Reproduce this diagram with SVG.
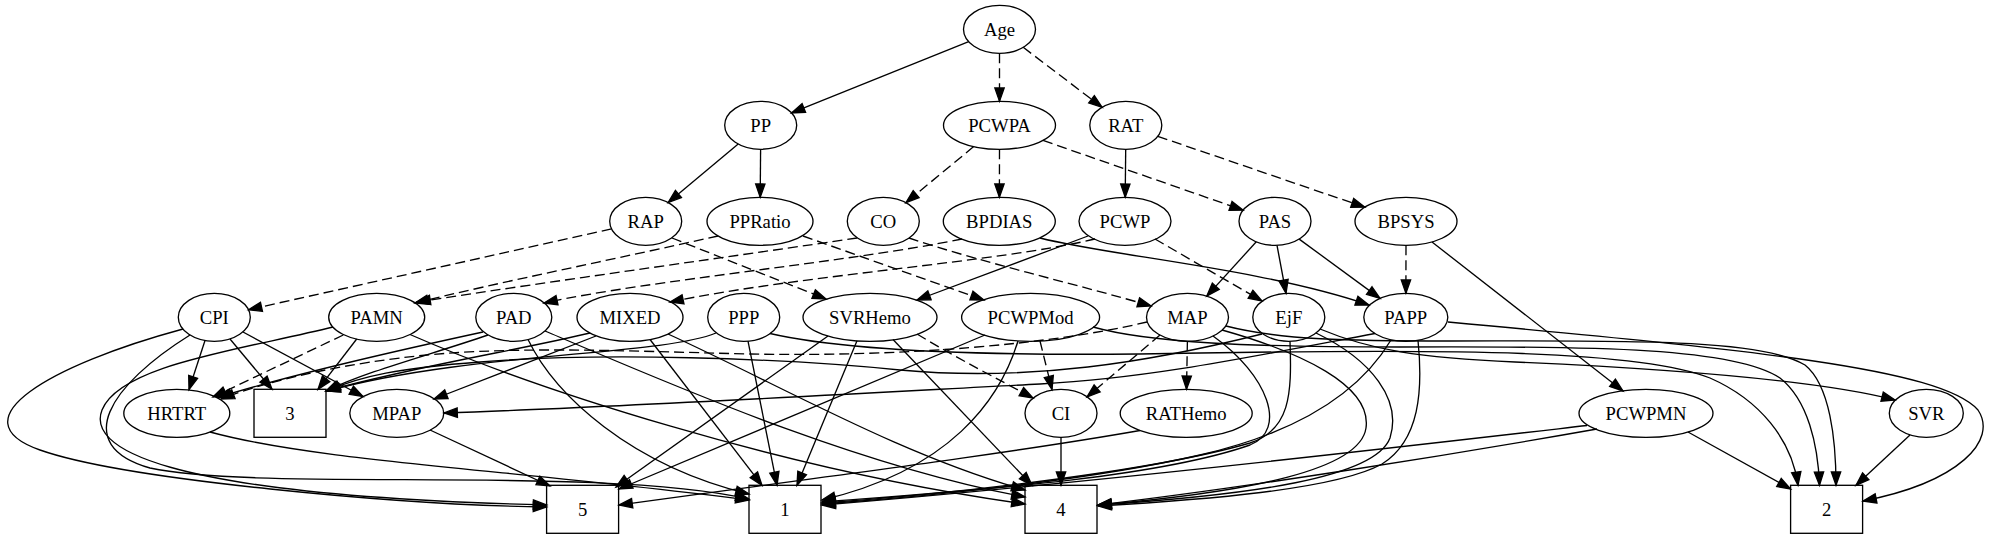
<svg xmlns="http://www.w3.org/2000/svg" width="1991" height="539" viewBox="0 0 1991 539">
<style>
.n ellipse, .n rect { fill: none; stroke: #000; stroke-width: 1.33; }
.n text { font-family: "Liberation Serif", "Times New Roman", serif; font-size: 18.67px; text-anchor: middle; fill: #000; }
#edges path { fill: none; stroke: #000; stroke-width: 1.33; marker-end: url(#ah); }
#edges path.d { stroke-dasharray: 10,5; }
</style>
<defs>
<marker id="ah" markerUnits="userSpaceOnUse" markerWidth="16" markerHeight="12" refX="13.3" refY="4.67" orient="auto" overflow="visible">
<path d="M0,0 L13.3,4.67 L0,9.33 Z" fill="#000" stroke="#000" stroke-width="1.33"/>
</marker>
</defs>
<rect x="0" y="0" width="1991" height="539" fill="#fff"/>
<g id="edges">
<path d="M968.7,41.7 L791.5,112.9"/>
<path class="d" d="M999.5,53.3 L999.5,101.3"/>
<path class="d" d="M1023.2,47.3 L1102.1,107.3"/>
<path d="M738.2,144 L668.2,202.5"/>
<path d="M760.6,149.3 L760.2,197.3"/>
<path class="d" d="M973.7,146.6 L905.9,202.6"/>
<path class="d" d="M999.5,149.3 L999.4,197.3"/>
<path class="d" d="M1043,140.4 L1243.1,210.2"/>
<path d="M1125.7,149.3 L1125.2,197.3"/>
<path class="d" d="M1157.8,136.3 L1364.8,207.2"/>
<path class="d" d="M611.5,228.9 L248.5,309.7"/>
<path class="d" d="M672,238 L826,299"/>
<path class="d" d="M718,236 C620,258 500,282 415,303"/>
<path class="d" d="M857,238 C750,254 560,280 417,302"/>
<path class="d" d="M803,236 L984,300"/>
<path class="d" d="M909,238 C980,262 1080,285 1151,306"/>
<path class="d" d="M962,239 C850,262 650,280 544,303"/>
<path class="d" d="M1095,239 C1000,262 800,275 670,302"/>
<path d="M1088,236 L917,300"/>
<path d="M1256.3,241.8 L1206.8,296.1"/>
<path d="M1277,245.3 L1286,293.3"/>
<path d="M1299.2,239.1 L1380,298.4"/>
<path d="M1040,238 C1110,256 1260,268 1369,305"/>
<path class="d" d="M1155,239 L1262,301"/>
<path class="d" d="M1406,245.3 L1405.9,293.3"/>
<path d="M1432,242 L1623,391"/>
<path d="M205,340.5 L189,389.5"/>
<path d="M230,339 L272,389.3"/>
<path d="M243,332 L363,396.5"/>
<path d="M183,329 C50,365 -45,420 40,450 C125,480 400,505 546.6,507"/>
<path d="M190,335 C110,385 70,445 150,468 C260,492 600,465 749,499"/>
<path d="M210,432 C320,462 520,470 749,500"/>
<path d="M333,327 C240,350 120,365 102,410 C88,446 150,495 546.6,505"/>
<path class="d" d="M343.3,335 L213,397"/>
<path d="M356.7,339 L318,389.3"/>
<path d="M410,334.5 C530,387 780,470 1025,504"/>
<path d="M483,332 C400,350 280,378 218,397.5"/>
<path d="M488,335 C430,355 370,370 326,391"/>
<path d="M528,339.5 C555,395 630,465 749,494"/>
<path d="M545,331 C650,375 850,465 1025,497"/>
<path d="M590,333 C520,350 420,365 326,391"/>
<path d="M596,336 L434,399"/>
<path d="M650,339.5 L762,485.3"/>
<path d="M668,334 C780,385 900,455 1025,490"/>
<path d="M716,333 C660,356 470,352 327,391"/>
<path d="M748,341.2 L777,485.3"/>
<path d="M770,333.5 C850,352 1000,357 1200,353 C1450,349 1640,350 1710,378 C1760,400 1792,440 1798,485.3"/>
<path d="M828,336 L616,487"/>
<path d="M857,340.8 L797,485.3"/>
<path d="M893,339.5 L1032,485.3"/>
<path class="d" d="M917,334 C960,360 1000,380 1033,398"/>
<path d="M985,335 L619,489"/>
<path d="M1018,341 C1000,400 950,470 822,500"/>
<path class="d" d="M1040,341 L1052,389.5"/>
<path d="M1093,327 C1150,343 1250,347 1400,347 C1600,346 1735,348 1780,378 C1808,400 1818,445 1819.5,485.3"/>
<path class="d" d="M1160,335 L1087,397"/>
<path class="d" d="M1187.4,341.3 L1186.5,389.3"/>
<path d="M1213,336 C1268,375 1288,430 1250,445 C1150,480 950,492 822,502"/>
<path d="M1222,330 C1300,352 1372,385 1366,428 C1360,470 1250,492 1098,505"/>
<path d="M1226,326 C1280,340 1350,341 1450,341 C1620,341 1760,338 1805,365 C1830,385 1836,440 1836,485.3"/>
<path class="d" d="M1147,322 C1050,345 900,357 750,354 C620,351 500,345 400,358 C320,368 260,384 221,399"/>
<path d="M1290,341.3 C1292,395 1290,430 1250,443 C1150,472 950,494 822,503"/>
<path d="M1316,333 C1372,360 1402,400 1390,438 C1375,478 1250,495 1098,505"/>
<path d="M1320,329 C1370,350 1420,358 1515,362 C1650,368 1810,378 1895,400"/>
<path d="M1262,334 C1150,362 1030,382 900,370 C780,358 600,352 480,362 C400,368 360,376 327,391"/>
<path d="M1375,333.5 C1250,357 1150,378 1040,384 C850,394 600,408 444,413"/>
<path d="M1391,340 C1360,392 1300,432 1200,455 C1100,478 950,495 822,504"/>
<path d="M1418,340.3 C1423,390 1420,440 1382,464 C1335,490 1200,500 1098,506"/>
<path d="M1448,322 C1750,350 1940,368 1978,410 C1998,440 1960,482 1863,501"/>
<path d="M1061,437.3 L1061,485.3"/>
<path d="M1140,430.5 C1000,455 800,480 619,505"/>
<path d="M430,430 L550,486"/>
<path d="M1587,425.5 C1400,447 1100,482 822,505"/>
<path d="M1597,429 C1450,455 1250,487 1098,505"/>
<path d="M1688,432 L1790.6,489"/>
<path d="M1910,435 L1856,485.3"/>
</g>
<g id="Age" class="n"><ellipse cx="999.5" cy="29.3" rx="36" ry="24"/><text x="999.5" y="35.8">Age</text></g>
<g id="PP" class="n"><ellipse cx="760.7" cy="125.3" rx="36" ry="24"/><text x="760.7" y="131.8">PP</text></g>
<g id="PCWPA" class="n"><ellipse cx="999.5" cy="125.3" rx="56" ry="24"/><text x="999.5" y="131.8">PCWPA</text></g>
<g id="RAT" class="n"><ellipse cx="1125.8" cy="125.3" rx="36" ry="24"/><text x="1125.8" y="131.8">RAT</text></g>
<g id="RAP" class="n"><ellipse cx="645.7" cy="221.3" rx="36" ry="24"/><text x="645.7" y="227.8">RAP</text></g>
<g id="PPRatio" class="n"><ellipse cx="760" cy="221.3" rx="53" ry="24"/><text x="760" y="227.8">PPRatio</text></g>
<g id="CO" class="n"><ellipse cx="883.3" cy="221.3" rx="36" ry="24"/><text x="883.3" y="227.8">CO</text></g>
<g id="BPDIAS" class="n"><ellipse cx="999.3" cy="221.3" rx="56" ry="24"/><text x="999.3" y="227.8">BPDIAS</text></g>
<g id="PCWP" class="n"><ellipse cx="1125" cy="221.3" rx="46" ry="24"/><text x="1125" y="227.8">PCWP</text></g>
<g id="PAS" class="n"><ellipse cx="1275" cy="221.3" rx="36" ry="24"/><text x="1275" y="227.8">PAS</text></g>
<g id="BPSYS" class="n"><ellipse cx="1406" cy="221.3" rx="51" ry="24"/><text x="1406" y="227.8">BPSYS</text></g>
<g id="CPI" class="n"><ellipse cx="214.3" cy="317.3" rx="36" ry="24"/><text x="214.3" y="323.8">CPI</text></g>
<g id="PAMN" class="n"><ellipse cx="376.7" cy="317.3" rx="48" ry="24"/><text x="376.7" y="323.8">PAMN</text></g>
<g id="PAD" class="n"><ellipse cx="513.8" cy="317.3" rx="38" ry="24"/><text x="513.8" y="323.8">PAD</text></g>
<g id="MIXED" class="n"><ellipse cx="630" cy="317.3" rx="53" ry="24"/><text x="630" y="323.8">MIXED</text></g>
<g id="PPP" class="n"><ellipse cx="743.7" cy="317.3" rx="36" ry="24"/><text x="743.7" y="323.8">PPP</text></g>
<g id="SVRHemo" class="n"><ellipse cx="870" cy="317.3" rx="67" ry="24"/><text x="870" y="323.8">SVRHemo</text></g>
<g id="PCWPMod" class="n"><ellipse cx="1030.6" cy="317.3" rx="69" ry="24"/><text x="1030.6" y="323.8">PCWPMod</text></g>
<g id="MAP" class="n"><ellipse cx="1187.5" cy="317.3" rx="41" ry="24"/><text x="1187.5" y="323.8">MAP</text></g>
<g id="EjF" class="n"><ellipse cx="1288.8" cy="317.3" rx="36" ry="24"/><text x="1288.8" y="323.8">EjF</text></g>
<g id="PAPP" class="n"><ellipse cx="1405.8" cy="317.3" rx="42" ry="24"/><text x="1405.8" y="323.8">PAPP</text></g>
<g id="HRTRT" class="n"><ellipse cx="176.8" cy="413.3" rx="53" ry="24"/><text x="176.8" y="419.8">HRTRT</text></g>
<g id="n3" class="n"><rect x="254" y="389.3" width="72" height="48"/><text x="290" y="419.8">3</text></g>
<g id="MPAP" class="n"><ellipse cx="396.8" cy="413.3" rx="47" ry="24"/><text x="396.8" y="419.8">MPAP</text></g>
<g id="CI" class="n"><ellipse cx="1061" cy="413.3" rx="36" ry="24"/><text x="1061" y="419.8">CI</text></g>
<g id="RATHemo" class="n"><ellipse cx="1186.2" cy="413.3" rx="66" ry="24"/><text x="1186.2" y="419.8">RATHemo</text></g>
<g id="PCWPMN" class="n"><ellipse cx="1646" cy="413.3" rx="67" ry="24"/><text x="1646" y="419.8">PCWPMN</text></g>
<g id="SVR" class="n"><ellipse cx="1926.3" cy="413.3" rx="37" ry="24"/><text x="1926.3" y="419.8">SVR</text></g>
<g id="n5" class="n"><rect x="546.6" y="485.3" width="72" height="48"/><text x="582.6" y="515.8">5</text></g>
<g id="n1" class="n"><rect x="749" y="485.3" width="72" height="48"/><text x="785" y="515.8">1</text></g>
<g id="n4" class="n"><rect x="1025" y="485.3" width="72" height="48"/><text x="1061" y="515.8">4</text></g>
<g id="n2" class="n"><rect x="1790.6" y="485.3" width="72" height="48"/><text x="1826.6" y="515.8">2</text></g>
</svg>
